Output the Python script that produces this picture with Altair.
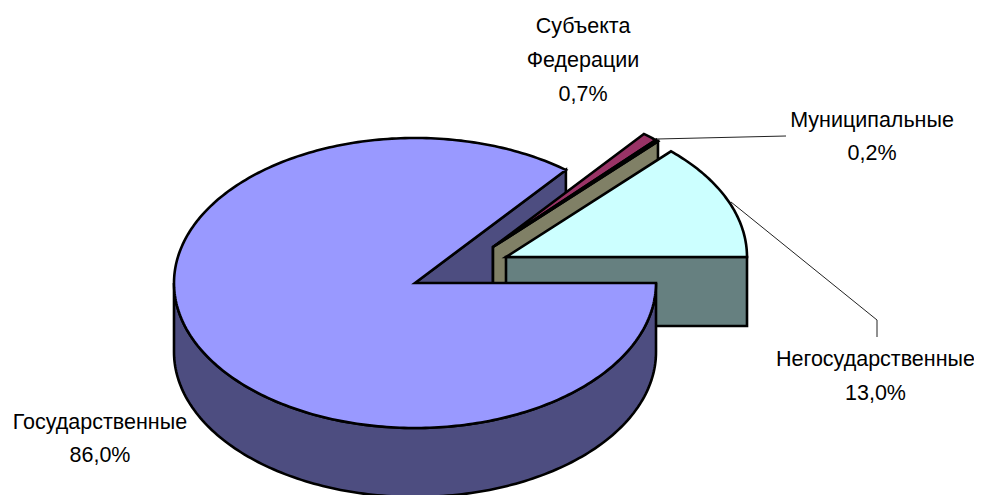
import math
import altair as alt
import pandas as pd

# Chart values
names = ["Негосударственные", "Муниципальные", "Субъекта Федерации", "Государственные"]
shares = [13.0, 0.2, 0.7, 86.0]
label_lines = [
    ["Негосударственные", "13,0%"],
    ["Муниципальные", "0,2%"],
    ["Субъекта", "Федерации", "0,7%"],
    ["Государственные", "86,0%"],
]
top_colors = ["#CCFFFF", "#FFFFCC", "#993366", "#9999FF"]
side_colors = ["#668080", "#808066", "#4D1933", "#4D4D80"]

# Layout (page pixels minus the 8px margin)
M = 8
RX, RY, DEPTH = 241, 145, 69
apex = [(506, 257), (493, 247), (493, 247), (415, 283)]
label_anchor = [(875.5, 360, 34), (872, 121, 33), (583, 27, 34), (100, 423, 33)]
leaders = [[(731, 202), (877, 320), (877, 337)], [(657, 139), (786, 136)]]
STROKE = 2.6
TIP_SKEW = 1.2  # the picture's perspective moves the far cut slightly round


def pt(c, deg, dy=0):
    t = math.radians(deg)
    return [c[0] + RX * math.cos(t) - M, c[1] - RY * math.sin(t) + dy - M]


def arc(c, a0, a1, dy=0, steps=160):
    return [pt(c, a0 + (a1 - a0) * i / steps, dy) for i in range(steps + 1)]


def feature(coords, fill):
    ring = coords + [coords[0]]
    return {"type": "Feature", "properties": {"fill": fill},
            "geometry": {"type": "Polygon", "coordinates": [ring]}}


def base(c, dy=0):
    return [c[0] - M, c[1] + dy - M]


# Slice angles follow the shares, counter-clockwise from the east
A = [0]
for s in shares:
    A.append(A[-1] + s * 3.6)
A[3] += TIP_SKEW

feats = []

# cut face of the large slice (back)
feats.append(feature([base(apex[3]), pt(apex[3], A[3]), pt(apex[3], A[3], DEPTH), base(apex[3], DEPTH)], side_colors[3]))
# Subject slice
feats.append(feature([base(apex[2]), pt(apex[2], A[2]), pt(apex[2], A[2], DEPTH), base(apex[2], DEPTH)], side_colors[2]))
feats.append(feature([base(apex[2])] + arc(apex[2], A[2], A[3], steps=8), top_colors[2]))
# Municipal slice
feats.append(feature([base(apex[1]), pt(apex[1], A[1]), pt(apex[1], A[1], DEPTH), base(apex[1], DEPTH)], side_colors[1]))
feats.append(feature([base(apex[1])] + arc(apex[1], A[1], A[2], steps=4), top_colors[1]))
# Non-state slice
feats.append(feature([base(apex[0]), pt(apex[0], 0), pt(apex[0], 0, DEPTH), base(apex[0], DEPTH)], side_colors[0]))
feats.append(feature([base(apex[0])] + arc(apex[0], A[0], A[1], steps=60), top_colors[0]))
# Large slice: wall then top
feats.append(feature(arc(apex[3], 180, 360) + arc(apex[3], 360, 180, DEPTH), side_colors[3]))
feats.append(feature([base(apex[3])] + arc(apex[3], A[3], 360, steps=300), top_colors[3]))

pie = (
    alt.Chart(alt.Data(values=feats))
    .mark_geoshape(stroke="#000000", strokeWidth=STROKE, strokeJoin="miter")
    .encode(fill=alt.Fill("properties.fill:N", scale=None))
    .project(type="identity", scale=1, translate=[0, 0])
)

line_rows = []
for i, path in enumerate(leaders):
    for j, (x, y) in enumerate(path):
        line_rows.append({"id": i, "o": j, "x": x - M, "y": y - M})

W, H = 966, 487
xs = alt.Scale(domain=[0, W], range=[0, W])
ys = alt.Scale(domain=[0, H], range=[0, H])

leader = (
    alt.Chart(pd.DataFrame(line_rows))
    .mark_line(color="#222222", strokeWidth=1)
    .encode(
        x=alt.X("x:Q", scale=xs, axis=None),
        y=alt.Y("y:Q", scale=ys, axis=None),
        detail="id:N",
        order="o:Q",
    )
)

text_rows = []
for lines, (x, y, gap) in zip(label_lines, label_anchor):
    for k, t in enumerate(lines):
        text_rows.append({"x": x - M, "y": y + k * gap - M, "t": t})

labels = (
    alt.Chart(pd.DataFrame(text_rows))
    .mark_text(font="Liberation Sans", fontSize=21.5, color="#000000", align="center", baseline="middle")
    .encode(
        x=alt.X("x:Q", scale=xs, axis=None),
        y=alt.Y("y:Q", scale=ys, axis=None),
        text="t:N",
    )
)

chart = (
    alt.layer(pie, leader, labels)
    .properties(width=W, height=H, padding=0, background="#FFFFFF",
                autosize=alt.AutoSizeParams(type="none"))
    .configure_view(stroke=None)
)

chart.save("out.html", embed_options={"renderer": "svg", "actions": False})
